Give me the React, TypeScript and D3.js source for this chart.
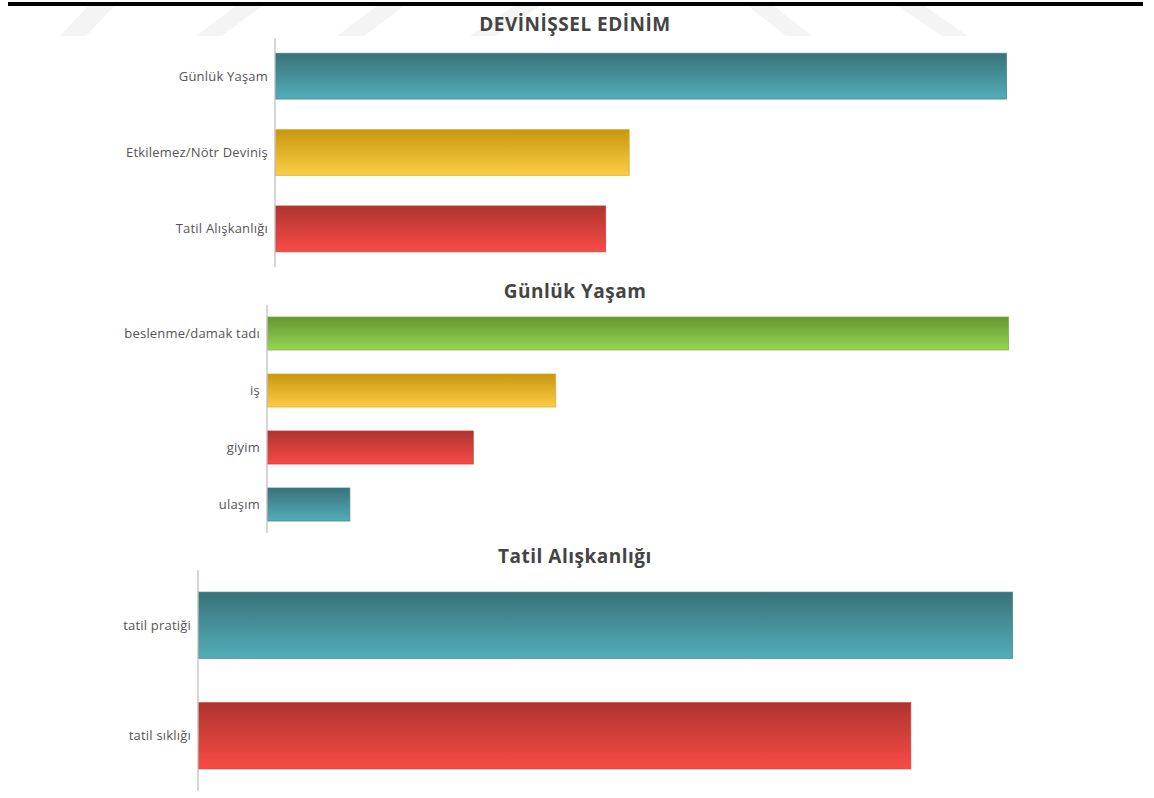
import * as d3 from 'd3';
import React from 'react';

const W = 1154;
const H = 798;

// chart 1: DEVİNİŞSEL EDİNİM
const devinisselCategories = ['Günlük Yaşam', 'Etkilemez/Nötr Deviniş', 'Tatil Alışkanlığı'];
const devinisselValues = [31, 15, 14];
const devinisselColors = ['teal', 'gold', 'red'];

// chart 2: Günlük Yaşam
const gunlukCategories = ['beslenme/damak tadı', 'iş', 'giyim', 'ulaşım'];
const gunlukValues = [18, 7, 5, 2];
const gunlukColors = ['green', 'gold', 'red', 'teal'];

// chart 3: Tatil Alışkanlığı
const tatilCategories = ['tatil pratiği', 'tatil sıklığı'];
const tatilValues = [8, 7];
const tatilColors = ['teal', 'red'];

const gradients = {
  teal: { top: '#39727a', bottom: '#52aeb8', stroke: '#3b7f86' },
  gold: { top: '#c9970f', bottom: '#fbcd45', stroke: '#d7aa2a' },
  red: { top: '#ae3430', bottom: '#f84b46', stroke: '#c23a35' },
  green: { top: '#679635', bottom: '#96d650', stroke: '#78ad3d' },
};

const panels = [
  { title: 'DEVİNİŞSEL EDİNİM', titleY: 31, x0: 275, x1: 1006, y0: 38, y1: 267, pad: 0.4, cats: devinisselCategories, vals: devinisselValues, cols: devinisselColors },
  { title: 'Günlük Yaşam', titleY: 298, x0: 267, x1: 1008, y0: 305, y1: 533, pad: 0.42, cats: gunlukCategories, vals: gunlukValues, cols: gunlukColors },
  { title: 'Tatil Alışkanlığı', titleY: 563, x0: 198, x1: 1012, y0: 570, y1: 791, pad: 0.4, cats: tatilCategories, vals: tatilValues, cols: tatilColors },
];

// faint watermark stripes at the top
const watermark = [
  [[60, 36], [86, 36], [114, 6], [88, 6]],
  [[196, 36], [222, 36], [262, 6], [236, 6]],
  [[337, 36], [364, 36], [404, 6], [377, 6]],
  [[470, 36], [496, 36], [540, 6], [514, 6]],
  [[748, 6], [774, 6], [812, 36], [786, 36]],
  [[898, 6], [924, 6], [968, 36], [942, 36]],
];

function Panel({ p }) {
  const x = d3.scaleLinear().domain([0, d3.max(p.vals)]).range([p.x0, p.x1]);
  const y = d3.scaleBand().domain(p.cats).range([p.y0, p.y1]).paddingInner(p.pad).paddingOuter(p.pad / 2);
  return (
    <g>
      <text x={575} y={p.titleY} textAnchor="middle" fontFamily="Open Sans" fontWeight="bold" fontSize={19}
        letterSpacing={0.5} fill="#444">{p.title}</text>
      {p.cats.map((c, i) => {
        const g = gradients[p.cols[i]];
        return (
          <g key={c}>
            <rect x={x(0) + 0.5} y={y(c)} width={x(p.vals[i]) - x(0)} height={y.bandwidth()}
              fill={`url(#grad-${p.cols[i]})`} stroke={g.stroke} strokeWidth={1} strokeOpacity={0.7} />
            <text x={p.x0 - 7} y={y(c) + y.bandwidth() / 2} dy="0.35em" textAnchor="end"
              fontFamily="Open Sans" fontSize={13} letterSpacing={0.2} fill="#555">{c}</text>
          </g>
        );
      })}
      <line x1={p.x0} x2={p.x0} y1={p.y0} y2={p.y1} stroke="#bbb" strokeWidth={1.2} />
    </g>
  );
}

export default function App() {
  return (
    <svg width={W} height={H} style={{ position: 'absolute', left: 0, top: 0, background: '#fff' }}>
      <defs>
        {Object.entries(gradients).map(([k, g]) => (
          <linearGradient key={k} id={`grad-${k}`} x1="0" y1="0" x2="0" y2="1">
            <stop offset="0%" stopColor={g.top} />
            <stop offset="100%" stopColor={g.bottom} />
          </linearGradient>
        ))}
      </defs>
      {watermark.map((pts, i) => (
        <polygon key={i} points={pts.map((q) => q.join(',')).join(' ')} fill="#f4f4f4" />
      ))}
      <rect x={8} y={2} width={1135} height={4} fill="#000" />
      {panels.map((p) => <Panel key={p.title} p={p} />)}
    </svg>
  );
}
